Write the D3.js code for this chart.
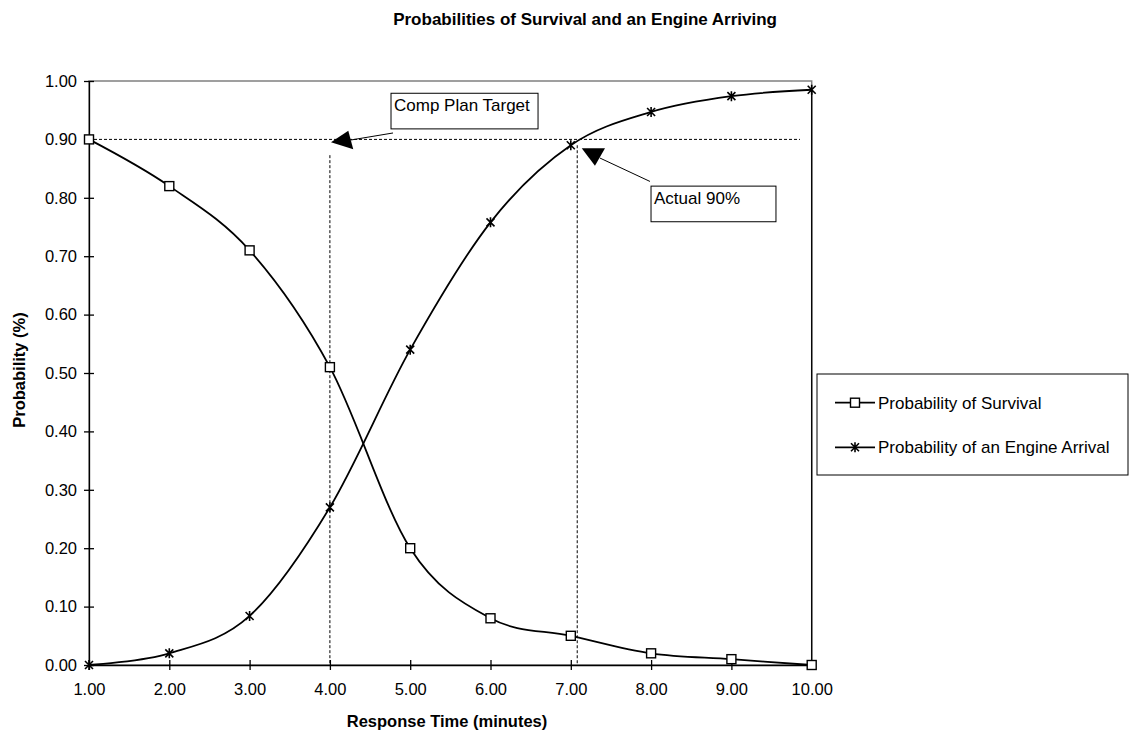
<!DOCTYPE html>
<html><head><meta charset="utf-8">
<script src="https://cdn.jsdelivr.net/npm/d3@7"></script>
<style>body{margin:0;background:#fff}svg{display:block}text{font-family:Arial,"Liberation Sans",sans-serif;fill:#000}</style>
</head><body><svg id="c" width="1132" height="734"></svg>
<script>
const times = [1,2,3,4,5,6,7,8,9,10];
const survival = [0.90,0.82,0.71,0.51,0.20,0.08,0.05,0.02,0.01,0.00];
const engine = [0.00,0.02,0.084,0.27,0.54,0.758,0.89,0.947,0.974,0.985];
const xTicks = [1,2,3,4,5,6,7,8,9,10];
const yTicks = [0,0.1,0.2,0.3,0.4,0.5,0.6,0.7,0.8,0.9,1.0];
const seriesNames = ["Probability of Survival","Probability of an Engine Arrival"];
const targetLevel = 0.90;
const compPlanTime = 4.00;
const actualTime = 7.08;

const svg = d3.select("#c");
const x = d3.scaleLinear().domain([1,10]).range([89,811.7]);
const y = d3.scaleLinear().domain([0,1]).range([665,81]);
const fmt = d3.format(".2f");

svg.append("text").attr("x",777).attr("y",25).attr("text-anchor","end")
  .attr("font-weight","bold").attr("font-size",17).text("Probabilities of Survival and an Engine Arriving");

// plot border
svg.append("rect").attr("x",x(1)).attr("y",y(1)).attr("width",x(10)-x(1)).attr("height",y(0)-y(1))
  .attr("fill","none").attr("stroke","#808080").attr("stroke-width",1.5);

// reference lines
const dash = "3,2";
svg.append("line").attr("x1",x(1)).attr("x2",x(9.854)).attr("y1",y(targetLevel)).attr("y2",y(targetLevel))
  .attr("stroke","#000").attr("stroke-dasharray",dash).attr("stroke-width",1);
svg.append("line").attr("x1",x(compPlanTime)).attr("x2",x(compPlanTime)).attr("y1",y(0.873)).attr("y2",y(0))
  .attr("stroke","#000").attr("stroke-dasharray",dash).attr("stroke-width",1);
svg.append("line").attr("x1",x(actualTime)).attr("x2",x(actualTime)).attr("y1",y(0.89)).attr("y2",y(0))
  .attr("stroke","#000").attr("stroke-dasharray",dash).attr("stroke-width",1);
// right edge line
svg.append("line").attr("x1",x(10)).attr("x2",x(10)).attr("y1",y(engine[9])).attr("y2",y(0))
  .attr("stroke","#000").attr("stroke-width",1.3);

// axes
const ya = svg.append("g").attr("transform",`translate(${x(1)},0)`)
  .call(d3.axisLeft(y).tickValues(yTicks).tickFormat(fmt).tickSizeInner(5).tickSizeOuter(0).tickPadding(7));
ya.selectAll(".tick line").attr("x2",5).attr("x1",-5);
const xa = svg.append("g").attr("transform",`translate(0,${y(0)})`)
  .call(d3.axisBottom(x).tickValues(xTicks).tickFormat(fmt).tickSizeInner(5).tickSizeOuter(0).tickPadding(13));
xa.selectAll(".tick line").attr("y1",-5).attr("y2",5);
[ya,xa].forEach(a=>{
  a.selectAll("path,line").attr("stroke","#000").attr("stroke-width",1.3);
  a.selectAll("text").attr("font-size",16.5).attr("font-family",'Arial,"Liberation Sans",sans-serif').attr("fill","#000");
});

svg.append("text").attr("x",447).attr("y",727).attr("text-anchor","middle")
  .attr("font-weight","bold").attr("font-size",16.5).text("Response Time (minutes)");
svg.append("text").attr("transform","translate(25,370) rotate(-90)").attr("text-anchor","middle")
  .attr("font-weight","bold").attr("font-size",16.5).text("Probability (%)");

// lines
const line = d3.line().x((d,i)=>x(times[i])).y(d=>y(d)).curve(d3.curveCardinal.tension(0));
[survival,engine].forEach(s=>{
  svg.append("path").attr("d",line(s)).attr("fill","none").attr("stroke","#000").attr("stroke-width",1.8);
});

function square(g,cx,cy){
  g.append("rect").attr("x",cx-4.5).attr("y",cy-4.5).attr("width",9).attr("height",9)
   .attr("fill","#fff").attr("stroke","#000").attr("stroke-width",1.4);
}
function star(g,cx,cy){
  const p=`M${cx-4},${cy-4}L${cx+4},${cy+4}M${cx-4},${cy+4}L${cx+4},${cy-4}M${cx},${cy-5}L${cx},${cy+5}`;
  g.append("path").attr("d",p).attr("stroke","#000").attr("stroke-width",1.6).attr("fill","none");
}
const mg = svg.append("g");
survival.forEach((d,i)=>square(mg,x(times[i]),y(d)));
engine.forEach((d,i)=>star(mg,x(times[i]),y(d)));

// callouts
function pt(a){return [x(a[0]),y(a[1])];}
function callout(box,text,lineFrom,lineTo,tri){
  const [bx0,by0]=pt([box[0],box[1]]),[bx1,by1]=pt([box[2],box[3]]);
  svg.append("line").attr("x1",pt(lineFrom)[0]).attr("y1",pt(lineFrom)[1]).attr("x2",pt(lineTo)[0]).attr("y2",pt(lineTo)[1])
    .attr("stroke","#000").attr("stroke-width",1);
  svg.append("path").attr("d","M"+tri.map(p=>pt(p).join(",")).join("L")+"Z").attr("fill","#000");
  svg.append("rect").attr("x",bx0).attr("y",by0).attr("width",bx1-bx0).attr("height",by1-by0)
    .attr("fill","#fff").attr("stroke","#000").attr("stroke-width",1);
  svg.append("text").attr("x",bx0+3).attr("y",by0+18).attr("font-size",17).text(text);
}
callout([4.761,0.979,6.592,0.918],"Comp Plan Target",[4.786,0.911],[4.263,0.899],
  [[4.014,0.895],[4.229,0.915],[4.291,0.883]]);
callout([7.999,0.820,9.555,0.759],"Actual 90%",[7.986,0.828],[7.364,0.868],
  [[7.136,0.885],[7.426,0.885],[7.301,0.855]]);

// legend
const lg = svg.append("g");
lg.append("rect").attr("x",817).attr("y",374).attr("width",311).attr("height",101)
  .attr("fill","#fff").attr("stroke","#000").attr("stroke-width",1);
[402.7,447.3].forEach((ly,i)=>{
  lg.append("line").attr("x1",835).attr("x2",875).attr("y1",ly).attr("y2",ly).attr("stroke","#000").attr("stroke-width",1.8);
  if(i===0) square(lg,855,ly); else star(lg,855,ly);
  lg.append("text").attr("x",878).attr("y",ly+6).attr("font-size",17).text(seriesNames[i]);
});
</script></body></html>
